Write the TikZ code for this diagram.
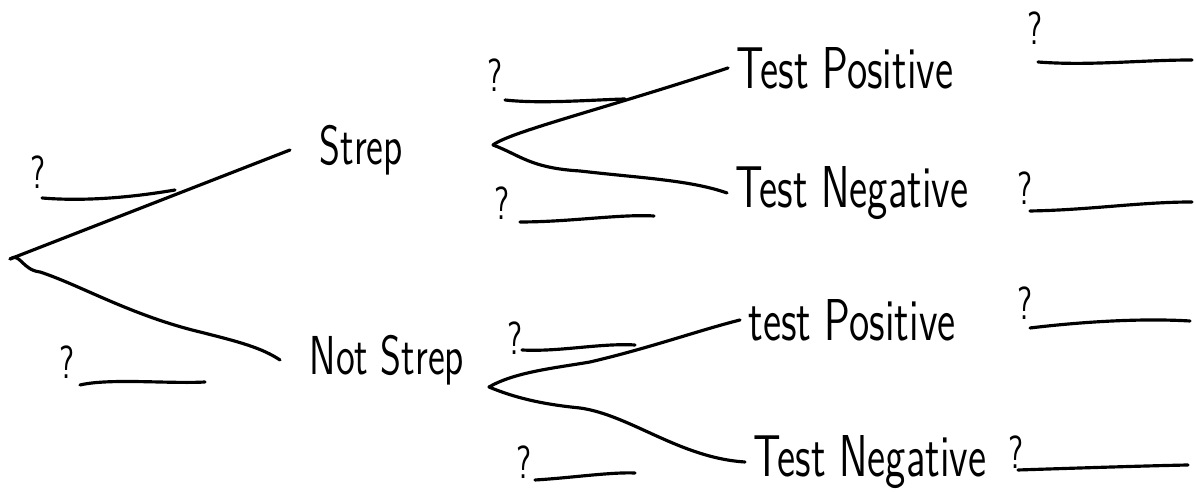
\documentclass[tikz,border=0pt]{standalone}
\usepackage{tikz}
\usetikzlibrary{positioning}
\newcommand{\hand}[1]{\scalebox{0.84}[1.2]{#1}}

\begin{document}
\begin{tikzpicture}[x=0.01cm,y=-0.01cm,line width=0.9pt,line cap=round,
      lbl/.style={font=\sffamily\fontsize{14}{16}\selectfont,anchor=west,inner xsep=2pt},
      first/.style={lbl,font=\sffamily\fontsize{13}{15}\selectfont,inner xsep=8pt},
      qm/.style={font=\sffamily\fontsize{11}{13}\selectfont,inner sep=0pt}]
    \useasboundingbox (0,0) rectangle (1196,492);
    % root and the two forks
    \coordinate (root) at (10,259);
    \coordinate (sfork) at (493,145);
    \coordinate (nfork) at (489,387);
    \node[first] (strep) at (290,150) {\hand{Strep}};
    \node[first] (nstrep) at (280,360) {\hand{Not Strep}};
    \node[lbl] (tp1) at (728,68) {\hand{Test Positive}};
    \node[lbl] (tn1) at (727,193) {\hand{Test Negative}};
    \node[lbl] (tp2) at (740,320) {\hand{test Positive}};
    \node[lbl] (tn2) at (745,462) {\hand{Test Negative}};
    % question marks
    \node[qm] (q1) at (38,172) {\hand{?}};
    \node[qm] (q2) at (67,362) {\hand{?}};
    \node[qm] (q3) at (495,75) {\hand{?}};
    \node[qm] (q4) at (502,203) {\hand{?}};
    \node[qm] (q5) at (515,338) {\hand{?}};
    \node[qm] (q6) at (524,462) {\hand{?}};
    \node[qm] (q7) at (1035,28) {\hand{?}};
    \node[qm] (q8) at (1025,188) {\hand{?}};
    \node[qm] (q9) at (1025,303) {\hand{?}};
    \node[qm] (q10) at (1016,452) {\hand{?}};
    % branches
    \draw (root) -- (strep.west);
    \draw (root) .. controls (20,252) and (22,270) .. (40,272)
      .. controls (80,285) and (130,315) .. (200,332)
      .. controls (240,342) and (262,348) .. (nstrep.west);
    \draw (sfork) .. controls (510,132) and (600,110) .. (tp1.west);
    \draw (sfork) .. controls (520,155) and (530,168) .. (580,171)
      .. controls (640,178) and (690,180) .. (tn1.west);
    \draw (nfork) .. controls (515,372) and (555,368) .. (590,362)
      .. controls (650,348) and (700,330) .. (tp2.west);
    \draw (nfork) .. controls (520,400) and (550,405) .. (580,408)
      .. controls (630,415) and (680,458) .. (tn2.west);
    % blanks
    \draw (42,198) .. controls (90,202) and (140,196) .. (175,190);
    \draw (80,385) .. controls (110,378) and (170,384) .. (205,382);
    \draw (505,100) .. controls (540,104) and (590,100) .. (625,99);
    \draw (520,222) .. controls (570,222) and (620,214) .. (654,216);
    \draw (522,350) .. controls (560,352) and (600,343) .. (635,345);
    \draw (535,480) .. controls (570,478) and (610,472) .. (635,473);
    \draw (1038,62) .. controls (1090,66) and (1140,60) .. (1192,60);
    \draw (1030,211) .. controls (1090,210) and (1140,202) .. (1192,202);
    \draw (1030,328) .. controls (1080,322) and (1140,318) .. (1190,321);
    \draw (1018,470) .. controls (1080,468) and (1140,466) .. (1188,465);
  \end{tikzpicture}
\end{document}
